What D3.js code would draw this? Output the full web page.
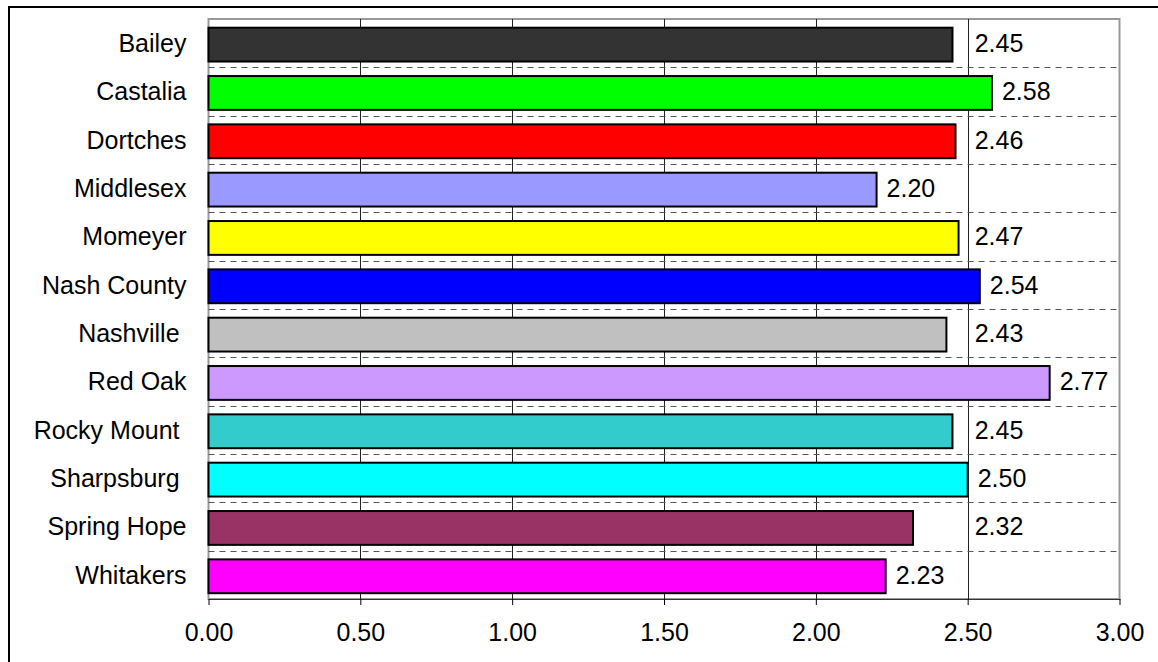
<!DOCTYPE html>
<html>
<head>
<meta charset="utf-8">
<script src="https://cdn.jsdelivr.net/npm/d3@7"></script>
<style>
  html, body { margin: 0; padding: 0; background: #fff; }
  svg { display: block; font-family: "Liberation Sans", Arial, sans-serif; }
  text { white-space: pre; }
</style>
</head>
<body>
<svg id="chart" width="1158" height="662"></svg>
<script>
const categories = ["Bailey", "Castalia", "Dortches", "Middlesex", "Momeyer", "Nash County",
  "Nashville ", "Red Oak", "Rocky Mount ", "Sharpsburg ", "Spring Hope", "Whitakers"];
const values = [2.45, 2.58, 2.46, 2.20, 2.47, 2.54, 2.43, 2.77, 2.45, 2.50, 2.32, 2.23];
const colors = ["#333333", "#00ff00", "#ff0000", "#9999ff", "#ffff00", "#0000ff",
  "#c0c0c0", "#cc99ff", "#33cccc", "#00ffff", "#993366", "#ff00ff"];
const tickValues = [0, 0.5, 1.0, 1.5, 2.0, 2.5, 3.0];

const svg = d3.select("#chart");
const W = 1158, H = 662;
const plot = { left: 208.5, right: 1119.5, top: 19, bottom: 599 };
const fontSize = 25;

// outer border
svg.append("rect").attr("x", 9).attr("y", 7).attr("width", W + 20).attr("height", H + 20)
  .attr("fill", "none").attr("stroke", "#000").attr("stroke-width", 2);

const x = d3.scaleLinear().domain([0, 3]).range([plot.left, plot.right]);
const y = d3.scaleBand().domain(categories).range([plot.top, plot.bottom]).padding(0);
const step = y.step();

// plot area border
svg.append("rect").attr("x", plot.left).attr("y", plot.top)
  .attr("width", plot.right - plot.left).attr("height", plot.bottom - plot.top)
  .attr("fill", "#fff").attr("stroke", "#999").attr("stroke-width", 2);

// vertical gridlines
svg.append("g").selectAll("line").data(tickValues.filter(t => t > 0 && t < 3)).join("line")
  .attr("x1", d => Math.round(x(d)) + 0.5).attr("x2", d => Math.round(x(d)) + 0.5)
  .attr("y1", plot.top).attr("y2", plot.bottom)
  .attr("stroke", "#222").attr("stroke-width", 1);

// horizontal dashed separators between categories
svg.append("g").selectAll("line").data(categories.slice(1)).join("line")
  .attr("x1", plot.left).attr("x2", plot.right)
  .attr("y1", d => Math.round(y(d)) + 0.5).attr("y2", d => Math.round(y(d)) + 0.5)
  .attr("stroke", "#555").attr("stroke-width", 1).attr("stroke-dasharray", "6,5");

// bars
svg.append("g").selectAll("rect").data(categories).join("rect")
  .attr("x", x(0))
  .attr("y", d => y(d) + step * 0.18)
  .attr("width", (d, i) => x(values[i]) - x(0))
  .attr("height", step * 0.70)
  .attr("fill", (d, i) => colors[i])
  .attr("stroke", "#000").attr("stroke-width", 2);

// x axis
const axis = d3.axisBottom(x).tickValues(tickValues).tickFormat(d3.format(".2f"))
  .tickSize(6).tickSizeOuter(0).tickPadding(18);
const ax = svg.append("g").attr("transform", `translate(0,${plot.bottom})`).call(axis);
ax.select(".domain").attr("stroke", "#333").attr("stroke-width", 1);
ax.selectAll(".tick line").attr("stroke", "#000");
ax.selectAll(".tick text").attr("font-size", fontSize).attr("font-family", "Liberation Sans, Arial, sans-serif").attr("fill", "#000");

// category labels
svg.append("g").selectAll("text").data(categories).join("text")
  .attr("x", plot.left - 22)
  .attr("y", d => y(d) + step / 2)
  .attr("dy", "0.35em")
  .attr("text-anchor", "end")
  .attr("font-size", fontSize)
  .attr("fill", "#000")
  .text(d => d);

// value labels, nudged past gridlines they would cross
const gridX = tickValues.filter(t => t > 0 && t < 3).map(t => x(t));
svg.append("g").selectAll("text").data(categories).join("text")
  .attr("y", d => y(d) + step / 2)
  .attr("dy", "0.35em")
  .attr("font-size", fontSize)
  .attr("fill", "#000")
  .text((d, i) => values[i].toFixed(2))
  .each(function (d, i) {
    const w = this.getComputedTextLength();
    let sx = x(values[i]) + 10;
    gridX.forEach(g => {
      if (sx < g + 7 && sx + w > g - 3) sx = g + 7;
    });
    d3.select(this).attr("x", sx);
  });
</script>
</body>
</html>
